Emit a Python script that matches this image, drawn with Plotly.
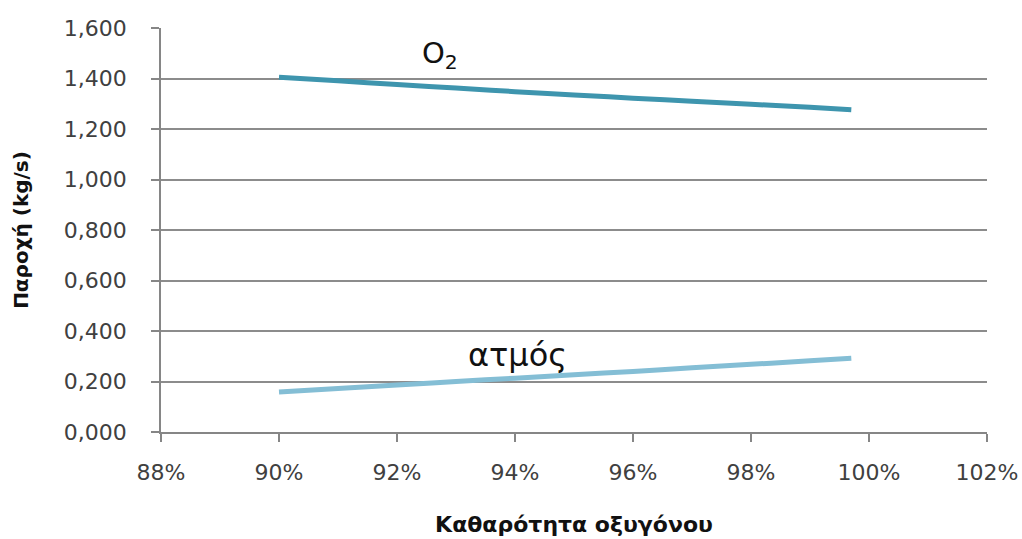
import plotly.graph_objects as go

# Oxygen purity (fraction) and mass flow rates (kg/s)
purity = [0.90, 0.91, 0.92, 0.93, 0.94, 0.95, 0.96, 0.97, 0.98, 0.99, 0.997]
o2_flow = [1.405, 1.391, 1.376, 1.362, 1.348, 1.335, 1.322, 1.310, 1.298, 1.286, 1.276]
steam_flow = [0.158, 0.172, 0.186, 0.200, 0.213, 0.227, 0.240, 0.254, 0.268, 0.282, 0.292]

y_ticks = [0.0, 0.2, 0.4, 0.6, 0.8, 1.0, 1.2, 1.4, 1.6]
x_ticks = [0.88, 0.90, 0.92, 0.94, 0.96, 0.98, 1.00, 1.02]

FONT = "DejaVu Sans"
fig = go.Figure()
fig.add_trace(go.Scatter(x=purity, y=o2_flow, mode="lines", name="O2",
                         line=dict(color="#3E95AE", width=5, shape="spline")))
fig.add_trace(go.Scatter(x=purity, y=steam_flow, mode="lines", name="ατμός",
                         line=dict(color="#84BED5", width=5, shape="spline")))

fig.add_annotation(x=0.9273, y=1.493, text="O<sub>2</sub>", showarrow=False,
                   font=dict(family=FONT, size=29, color="#111111"))
fig.add_annotation(x=0.9405, y=0.305, text="ατμός", showarrow=False,
                   font=dict(family=FONT, size=32, color="#111111"))

fig.update_layout(
    width=1022, height=539,
    margin=dict(l=161, r=35, t=28, b=107),
    paper_bgcolor="white", plot_bgcolor="white",
    showlegend=False,
    separators=",.",
    font=dict(family=FONT, color="#404040"),
)
fig.update_xaxes(
    range=[0.88, 1.02], tickvals=x_ticks, tickformat=".0%",
    automargin=False,
    showgrid=False, zeroline=False,
    showline=True, linecolor="#868686", linewidth=1.5,
    ticks="outside", ticklen=8, tickcolor="#868686", tickwidth=1.5,
    ticklabelstandoff=12,
    tickfont=dict(size=22, color="#404040"),
    title=dict(text="<b>Καθαρότητα οξυγόνου</b>", font=dict(size=22, color="#111111"), standoff=32),
)
fig.update_yaxes(
    range=[0, 1.6], tickvals=y_ticks, tickformat=".3f",
    automargin=False,
    showgrid=True, gridcolor="#8C8C8C", gridwidth=1.5, zeroline=False,
    showline=True, linecolor="#868686", linewidth=1.5,
    ticks="outside", ticklen=8, tickcolor="#868686", tickwidth=1.5,
    ticklabelstandoff=20,
    tickfont=dict(size=22, color="#404040"),
    title=dict(text="<b>Παροχή (kg/s)</b>", font=dict(size=20, color="#111111"), standoff=30),
)

fig.write_html("out.html")
